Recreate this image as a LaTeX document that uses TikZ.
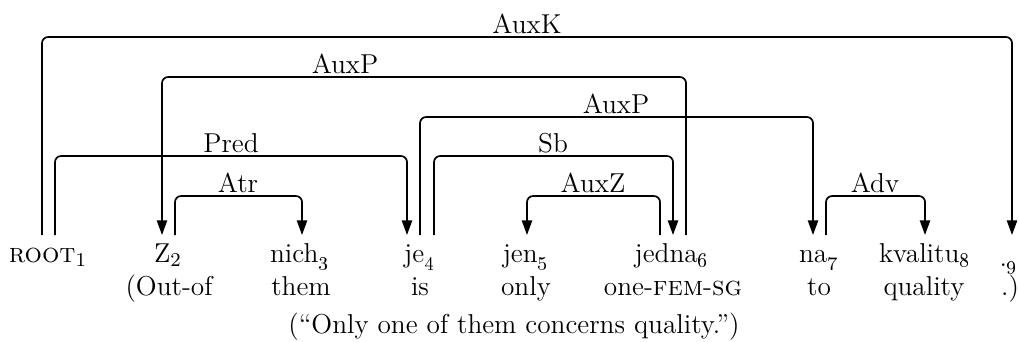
\documentclass[tikz,border=0pt]{standalone}
\usetikzlibrary{arrows.meta}
\newcommand\osub[1]{\textsubscript{\oldstylenums{#1}}}
\begin{document}
\begin{tikzpicture}[x=0.41pt,y=-0.41pt,
  word/.style={anchor=base,inner sep=0pt,font=\fontsize{11.2}{13}\selectfont},
  lab/.style={anchor=base,inner sep=0pt,font=\fontsize{11.2}{13}\selectfont},
  dep/.style={line width=0.7pt,rounded corners=2.5pt},
  arr/.style={-{Triangle[length=6pt,width=4.2pt]}}]
\useasboundingbox (0,0) rectangle (1019,341);
% words
\node[word] (w1) at (48,262) {\textsc{root}$_1$};
\node[word] (w2) at (168,262) {Z$_2$};
\node[word] (w3) at (300,262) {nich\osub{3}};
\node[word] (w4) at (420,262) {je\osub{4}};
\node[word] (w5) at (526,262) {jen\osub{5}};
\node[word] (w6) at (672,262) {jedna\osub{6}};
\node[word] (w7) at (819,262) {na\osub{7}};
\node[word] (w8) at (925,262) {kvalitu\osub{8}};
\node[word] (w9) at (1009,266) {.\osub{9}};
% glosses
\node[word] (g2) at (169,295) {(Out-of};
\node[word] (g3) at (301,295) {them};
\node[word] (g4) at (420,295) {is};
\node[word] (g5) at (526,295) {only};
\node[word] (g6) at (673,295) {one-\textsc{fem}-\textsc{sg}};
\node[word] (g7) at (819,295) {to};
\node[word] (g8) at (924,295) {quality};
\node[word] (g9) at (1010,295) {.)};
\node[word] (tr) at (514,333) {(``Only one of them concerns quality.'')};
% edge anchors
\path (w1.base) ++(-6,-27) coordinate (w1l) ++(13,0) coordinate (w1r);
\path (w2.base) ++(-6,-27) coordinate (w2l) ++(13,0) coordinate (w2r);
\path (w3.base) ++(2,-27) coordinate (w3a);
\path (w4.base) ++(-13,-27) coordinate (w4l) ++(13,0) coordinate (w4m) ++(14,0) coordinate (w4r);
\path (w5.base) ++(1,-27) coordinate (w5a);
\path (w6.base) ++(-12,-27) coordinate (w6l) ++(13,0) coordinate (w6m) ++(13,0) coordinate (w6r);
\path (w7.base) ++(-6,-27) coordinate (w7l) ++(13,0) coordinate (w7r);
\path (w8.base) ++(0,-27) coordinate (w8a);
\path (w9.base) ++(3,-31) coordinate (w9a);
% edges
\draw[dep,arr] (w1l) -- ++(0,-198) -| (w9a);
\draw[dep,arr] (w6r) -- ++(0,-158) -| (w2l);
\draw[dep,arr] (w4m) -- ++(0,-118) -| (w7l);
\draw[dep,arr] (w1r) -- ++(0,-79) -| (w4l);
\draw[dep,arr] (w4r) -- ++(0,-79) -| (w6m);
\draw[dep,arr] (w2r) -- ++(0,-39) -| (w3a);
\draw[dep,arr] (w6l) -- ++(0,-39) -| (w5a);
\draw[dep,arr] (w7r) -- ++(0,-39) -| (w8a);
% labels
\node[lab] (lAuxK) at (527,33) {AuxK};
\node[lab] (lAuxP1) at (345,73) {AuxP};
\node[lab] (lAuxP2) at (616,113) {AuxP};
\node[lab] (lPred) at (231,152) {Pred};
\node[lab] (lSb) at (553,152) {Sb};
\node[lab] (lAtr) at (238,192) {Atr};
\node[lab] (lAuxZ) at (593,192) {AuxZ};
\node[lab] (lAdv) at (875,192) {Adv};
\end{tikzpicture}
\end{document}
